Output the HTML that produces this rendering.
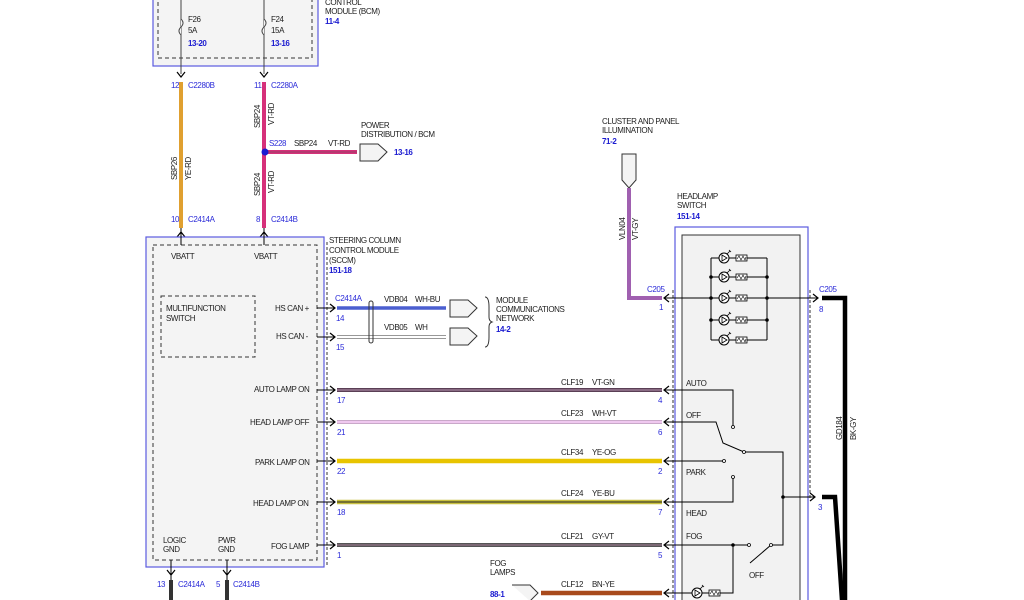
<!DOCTYPE html>
<html><head><meta charset="utf-8"><style>
html,body{margin:0;padding:0;background:#fff;width:1024px;height:600px;overflow:hidden}
svg{display:block}
text{font-family:"Liberation Sans",sans-serif;font-size:8px;fill:#222;letter-spacing:-0.4px}
.b{fill:#1a1ad0;font-weight:bold}
.bl{fill:#2a2ad8}
</style></head><body>
<svg width="1024" height="600" viewBox="0 0 1024 600" xmlns="http://www.w3.org/2000/svg">
<defs>
<g id="arD"><path d="M-4,-5 L0,0 L4,-5" fill="none" stroke="#000" stroke-width="1.2"/></g>
<g id="arL"><path d="M5,-4 L0,0 L5,4" fill="none" stroke="#000" stroke-width="1.2"/></g>
<g id="arR"><path d="M-5,-4 L0,0 L-5,4" fill="none" stroke="#000" stroke-width="1.2"/></g>
<g id="lamp"><circle cx="0" cy="0" r="5" fill="#fff" stroke="#000" stroke-width="1"/><path d="M-2,-3 L3,0 L-2,3 Z" fill="none" stroke="#000" stroke-width="0.8"/><path d="M3,-4 L6,-7 M5,-8 L7,-6" stroke="#000" stroke-width="0.8"/><rect x="12" y="-3" width="11" height="6" fill="#fff" stroke="#000" stroke-width="0.8"/><path d="M13,1 L15,-2 L17,2 L19,-2 L21,2 L22,-1" fill="none" stroke="#000" stroke-width="0.6"/></g>
</defs>

<!-- BCM box -->
<rect x="153" y="-2" width="165" height="68" fill="#f4f4f4" stroke="#5b5be0" stroke-width="1.2"/>
<rect x="158" y="-2" width="154" height="60" fill="none" stroke="#333" stroke-width="1" stroke-dasharray="4,3"/>
<line x1="181" y1="0" x2="181" y2="74" stroke="#444" stroke-width="1"/>
<line x1="264" y1="0" x2="264" y2="74" stroke="#444" stroke-width="1"/>
<path d="M181,19 q4,4 0,8 q-4,4 0,8" fill="#f4f4f4" stroke="#444"/>
<path d="M264,19 q4,4 0,8 q-4,4 0,8" fill="#f4f4f4" stroke="#444"/>
<text x="188" y="22">F26</text><text x="188" y="33">5A</text><text x="188" y="46" class="b">13-20</text>
<text x="271" y="22">F24</text><text x="271" y="33">15A</text><text x="271" y="46" class="b">13-16</text>
<text x="325" y="5">CONTROL</text><text x="325" y="14">MODULE (BCM)</text><text x="325" y="24" class="b">11-4</text>
<use href="#arD" x="181" y="77"/><use href="#arD" x="264" y="77"/>
<!-- wires top -->
<line x1="181" y1="82" x2="181" y2="228" stroke="#e0a030" stroke-width="4"/>
<line x1="264" y1="82" x2="264" y2="228" stroke="#d6307a" stroke-width="4"/>
<line x1="264" y1="152" x2="357" y2="152" stroke="#d6307a" stroke-width="4"/>
<line x1="264" y1="152" x2="357" y2="152" stroke="#555" stroke-width="0.6"/>
<circle cx="265" cy="152" r="3.5" fill="#1a1ad0"/>
<path d="M360,144 L378,144 L387,152 L378,161 L360,161 Z" fill="#f4f4f4" stroke="#333"/>
<text x="171" y="88" class="bl">12</text><text x="188" y="88" class="bl">C2280B</text>
<text x="254" y="88" class="bl">11</text><text x="271" y="88" class="bl">C2280A</text>
<text x="171" y="222" class="bl">10</text><text x="188" y="222" class="bl">C2414A</text>
<text x="256" y="222" class="bl">8</text><text x="271" y="222" class="bl">C2414B</text>
<text x="269" y="146" class="bl">S228</text><text x="294" y="146">SBP24</text><text x="328" y="146">VT-RD</text>
<text x="361" y="128">POWER</text><text x="361" y="137">DISTRIBUTION / BCM</text><text x="394" y="155" class="b">13-16</text>
<text transform="translate(177,180) rotate(-90)">SBP26</text><text transform="translate(191,180) rotate(-90)">YE-RD</text>
<text transform="translate(260,128) rotate(-90)">SBP24</text><text transform="translate(274,125) rotate(-90)">VT-RD</text>
<text transform="translate(260,196) rotate(-90)">SBP24</text><text transform="translate(274,193) rotate(-90)">VT-RD</text>
<use href="#arD" x="181" y="232" transform="rotate(180 181 232)"/>
<use href="#arD" x="264" y="232" transform="rotate(180 264 232)"/>

<!-- SCCM -->
<rect x="146" y="237" width="178" height="330" fill="#f4f4f4" stroke="#5b5be0" stroke-width="1.2"/>
<rect x="153" y="245" width="164" height="315" fill="none" stroke="#333" stroke-width="1" stroke-dasharray="4,3"/>
<line x1="327" y1="242" x2="327" y2="567" stroke="#333" stroke-dasharray="3,2"/>
<line x1="181" y1="228" x2="181" y2="245" stroke="#000"/><line x1="264" y1="228" x2="264" y2="245" stroke="#000"/>
<rect x="161" y="296" width="94" height="61" fill="none" stroke="#333" stroke-dasharray="4,3"/>
<text x="171" y="259">VBATT</text><text x="254" y="259">VBATT</text>
<text x="166" y="311">MULTIFUNCTION</text><text x="166" y="321">SWITCH</text>
<text x="275" y="311">HS CAN +</text><text x="276" y="339">HS CAN -</text>
<text x="254" y="392">AUTO LAMP ON</text><text x="250" y="425">HEAD LAMP OFF</text>
<text x="255" y="465">PARK LAMP ON</text><text x="253" y="506">HEAD LAMP ON</text>
<text x="271" y="549">FOG LAMP</text>
<text x="163" y="543">LOGIC</text><text x="163" y="552">GND</text>
<text x="218" y="543">PWR</text><text x="218" y="552">GND</text>
<text x="329" y="243">STEERING COLUMN</text><text x="329" y="253">CONTROL MODULE</text><text x="329" y="263">(SCCM)</text><text x="329" y="273" class="b">151-18</text>
<!-- grounds -->
<line x1="171" y1="560" x2="171" y2="600" stroke="#000"/><line x1="227" y1="560" x2="227" y2="600" stroke="#000"/>
<use href="#arD" x="171" y="575"/><use href="#arD" x="227" y="575"/>
<rect x="169" y="580" width="4" height="20" fill="#333"/><rect x="225" y="580" width="4" height="20" fill="#333"/>
<text x="157" y="587" class="bl">13</text><text x="178" y="587" class="bl">C2414A</text>
<text x="216" y="587" class="bl">5</text><text x="233" y="587" class="bl">C2414B</text>

<!-- CAN wires -->
<g stroke="#000" stroke-width="1"><line x1="317" y1="308" x2="335" y2="308"/><line x1="317" y1="337" x2="335" y2="337"/></g>
<use href="#arR" x="335" y="308"/><use href="#arR" x="335" y="337"/>
<line x1="337" y1="308" x2="446" y2="308" stroke="#4b5fd0" stroke-width="3.5"/>
<line x1="337" y1="337" x2="446" y2="337" stroke="#777" stroke-width="3.5"/>
<line x1="337" y1="337" x2="446" y2="337" stroke="#fff" stroke-width="2"/>
<rect x="369" y="301" width="4" height="42" rx="2" fill="none" stroke="#333"/>
<path d="M450,300 L468,300 L477,308 L468,317 L450,317 Z M450,328 L468,328 L477,336 L468,345 L450,345 Z" fill="#f4f4f4" stroke="#333"/>
<path d="M485,297 q4,0 4,10 v10 q0,4 3,5 q-3,1 -3,5 v10 q0,10 -4,10" fill="none" stroke="#333"/>
<text x="335" y="301" class="bl">C2414A</text><text x="384" y="302">VDB04</text><text x="415" y="302">WH-BU</text>
<text x="384" y="330">VDB05</text><text x="415" y="330">WH</text>
<text x="336" y="321" class="bl">14</text><text x="336" y="350" class="bl">15</text>
<text x="496" y="303">MODULE</text><text x="496" y="312">COMMUNICATIONS</text><text x="496" y="321">NETWORK</text><text x="496" y="332" class="b">14-2</text>

<!-- signal wires -->
<g stroke="#000" stroke-width="1">
<line x1="317" y1="390" x2="335" y2="390"/><line x1="317" y1="422" x2="335" y2="422"/><line x1="317" y1="461" x2="335" y2="461"/><line x1="317" y1="502" x2="335" y2="502"/><line x1="317" y1="545" x2="335" y2="545"/>
</g>
<use href="#arR" x="335" y="390"/><use href="#arR" x="335" y="422"/><use href="#arR" x="335" y="461"/><use href="#arR" x="335" y="502"/><use href="#arR" x="335" y="545"/>
<line x1="337" y1="390" x2="662" y2="390" stroke="#5a3f55" stroke-width="4"/><line x1="337" y1="390" x2="662" y2="390" stroke="#9a7a94" stroke-width="1.5"/>
<line x1="337" y1="422" x2="662" y2="422" stroke="#c9a8c9" stroke-width="4"/><line x1="337" y1="422" x2="662" y2="422" stroke="#efc8ef" stroke-width="2"/>
<line x1="337" y1="461" x2="662" y2="461" stroke="#e8c400" stroke-width="4.5"/>
<line x1="337" y1="502" x2="662" y2="502" stroke="#c8c040" stroke-width="4.5"/><line x1="337" y1="502" x2="662" y2="502" stroke="#222" stroke-width="1"/>
<line x1="337" y1="545" x2="662" y2="545" stroke="#555" stroke-width="4"/><line x1="337" y1="545" x2="662" y2="545" stroke="#8a7080" stroke-width="1.5"/>
<line x1="541" y1="593" x2="662" y2="593" stroke="#a84a1c" stroke-width="4.5"/>
<path d="M512,585 L530,585 L538,593 L530,601" fill="#f4f4f4" stroke="#333"/>
<text x="337" y="403" class="bl">17</text><text x="337" y="435" class="bl">21</text><text x="337" y="474" class="bl">22</text><text x="337" y="515" class="bl">18</text><text x="337" y="558" class="bl">1</text>
<text x="561" y="385">CLF19</text><text x="592" y="385">VT-GN</text>
<text x="561" y="416">CLF23</text><text x="592" y="416">WH-VT</text>
<text x="561" y="455">CLF34</text><text x="592" y="455">YE-OG</text>
<text x="561" y="496">CLF24</text><text x="592" y="496">YE-BU</text>
<text x="561" y="539">CLF21</text><text x="592" y="539">GY-VT</text>
<text x="561" y="587">CLF12</text><text x="592" y="587">BN-YE</text>
<text x="658" y="403" class="bl">4</text><text x="658" y="435" class="bl">6</text><text x="658" y="474" class="bl">2</text><text x="658" y="515" class="bl">7</text><text x="658" y="558" class="bl">5</text>
<text x="490" y="566">FOG</text><text x="490" y="575">LAMPS</text><text x="490" y="597" class="b">88-1</text>

<!-- cluster -->
<text x="602" y="124">CLUSTER AND PANEL</text><text x="602" y="133">ILLUMINATION</text><text x="602" y="144" class="b">71-2</text>
<path d="M622,154 L636,154 L636,180 L629,188 L622,180 Z" fill="#f4f4f4" stroke="#333"/>
<path d="M629,188 L629,298 L662,298" fill="none" stroke="#a060b0" stroke-width="4"/>
<text transform="translate(625,240) rotate(-90)">VLN04</text><text transform="translate(638,240) rotate(-90)">VT-GY</text>
<text x="647" y="292" class="bl">C205</text><text x="659" y="310" class="bl">1</text>

<!-- headlamp switch -->
<text x="677" y="199">HEADLAMP</text><text x="677" y="208">SWITCH</text><text x="677" y="219" class="b">151-14</text>
<rect x="675" y="227" width="133" height="380" fill="#fff" stroke="#5b5be0" stroke-width="1.2"/>
<rect x="682" y="235" width="118" height="370" fill="#f2f2f2" stroke="#333" stroke-width="1"/>
<line x1="673" y1="290" x2="673" y2="600" stroke="#333" stroke-dasharray="3,2"/>
<line x1="810" y1="290" x2="810" y2="500" stroke="#333" stroke-dasharray="3,2"/>
<g stroke="#000" stroke-width="1" fill="none">
<line x1="664" y1="298" x2="818" y2="298"/>
<path d="M711,258 V340 M767,258 V340"/>
<path d="M711,258 H767 M711,277 H767 M711,320 H767 M711,340 H767"/>
</g>
<use href="#arL" x="664" y="298"/><use href="#arR" x="818" y="298"/>
<use href="#lamp" x="724" y="258"/><use href="#lamp" x="724" y="277"/><use href="#lamp" x="724" y="298"/><use href="#lamp" x="724" y="320"/><use href="#lamp" x="724" y="340"/>
<g fill="#000"><circle cx="711" cy="277" r="1.8"/><circle cx="711" cy="298" r="1.8"/><circle cx="711" cy="320" r="1.8"/><circle cx="767" cy="277" r="1.8"/><circle cx="767" cy="298" r="1.8"/><circle cx="767" cy="320" r="1.8"/></g>
<text x="819" y="292" class="bl">C205</text><text x="819" y="312" class="bl">8</text>
<path d="M822,298 H845 V600" fill="none" stroke="#000" stroke-width="4.5"/>
<path d="M822,497 H835 L842,600" fill="none" stroke="#000" stroke-width="4.5"/>
<text transform="translate(842,440) rotate(-90)">GD184</text><text transform="translate(856,440) rotate(-90)">BK-GY</text>
<text x="818" y="510" class="bl">3</text>
<!-- switch internals -->
<g stroke="#000" stroke-width="1" fill="none">
<path d="M664,390 H733 V427"/>
<path d="M664,422 H716 L723,443 L744,452 H783 V545 H771 L750,563"/>
<path d="M664,461 H724"/>
<path d="M733,477 V502 H664"/>
<path d="M664,545 H749"/>
<path d="M733,545 V593 H664"/>
<path d="M783,497 H815"/>
</g>
<use href="#arL" x="664" y="390"/><use href="#arL" x="664" y="422"/><use href="#arL" x="664" y="461"/><use href="#arL" x="664" y="502"/><use href="#arL" x="664" y="545"/><use href="#arL" x="664" y="593"/><use href="#arR" x="815" y="497"/>
<g fill="#fff" stroke="#000" stroke-width="0.8"><circle cx="733" cy="427" r="1.5"/><circle cx="724" cy="461" r="1.5"/><circle cx="733" cy="477" r="1.5"/><circle cx="749" cy="545" r="1.5"/><circle cx="771" cy="545" r="1.5"/><circle cx="744" cy="452" r="1.5"/></g>
<g fill="#000"><circle cx="733" cy="545" r="1.8"/><circle cx="783" cy="497" r="1.8"/></g>
<use href="#lamp" x="697" y="593"/>
<text x="686" y="386">AUTO</text><text x="686" y="418">OFF</text><text x="686" y="475">PARK</text><text x="686" y="516">HEAD</text><text x="686" y="539">FOG</text><text x="749" y="578">OFF</text>
</svg>
</body></html>
